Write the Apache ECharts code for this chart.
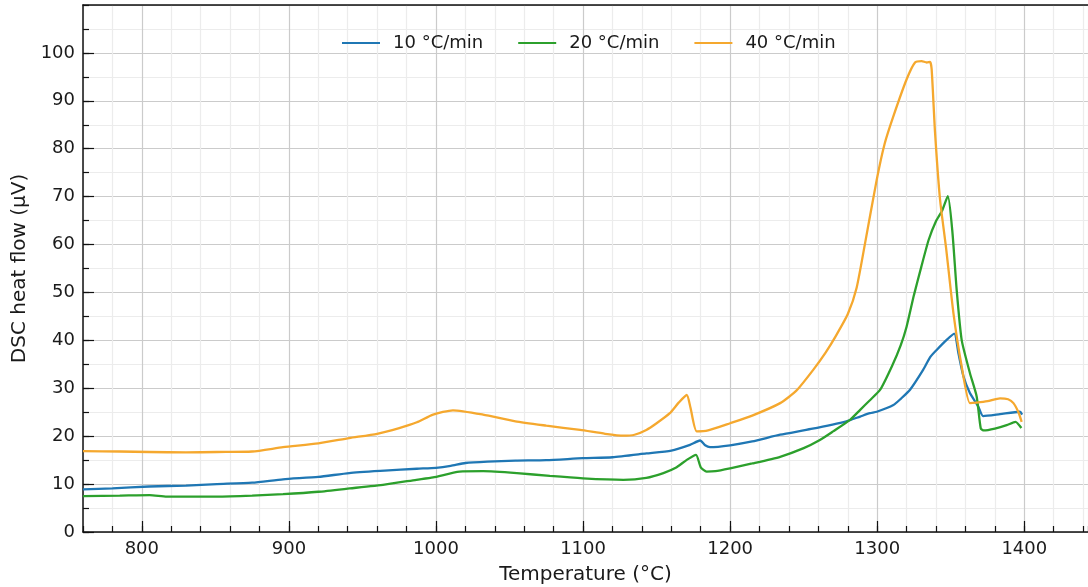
<!DOCTYPE html>
<html>
<head>
<meta charset="utf-8">
<script src="https://cdn.jsdelivr.net/npm/echarts@6/dist/echarts.min.js"></script>
<style>
html,body{margin:0;padding:0;background:#fff;}
#c{width:1088px;height:587px;}
</style>
</head>
<body>
<div id="c"></div>
<script>
var seriesNames = ['10 °C/min', '20 °C/min', '40 °C/min'];
var xMajorTicks = [800, 900, 1000, 1100, 1200, 1300, 1400];
var yMajorTicks = [0, 10, 20, 30, 40, 50, 60, 70, 80, 90, 100];

var tempsBlue = [760, 780, 805, 830, 851, 875, 896, 920, 941, 965, 987, 1000, 1010, 1020, 1035, 1054, 1075, 1100, 1120, 1143, 1160, 1172.7, 1179.5, 1183, 1186.3, 1200, 1215, 1234, 1255, 1279, 1288.4, 1295, 1299.7, 1311, 1316, 1322.3, 1331.3, 1336, 1340.4, 1347.2, 1352.4, 1355.2, 1358.6, 1363, 1368.7, 1372, 1383.5, 1397, 1398.5];
var valuesBlue = [8.9, 9.1, 9.5, 9.7, 10.0, 10.3, 11.0, 11.5, 12.3, 12.8, 13.2, 13.4, 13.8, 14.4, 14.7, 14.9, 15.0, 15.4, 15.6, 16.4, 17.0, 18.2, 19.1, 18.1, 17.7, 18.1, 18.9, 20.3, 21.5, 23.1, 24.1, 24.8, 25.1, 26.5, 27.8, 29.7, 33.9, 36.5, 38.0, 40.1, 41.4, 37.3, 32.5, 29.0, 26.2, 24.2, 24.6, 25.1, 24.5];

var tempsGreen = [760, 785, 805.4, 817, 851, 875, 896, 920, 941.4, 965, 986.7, 998, 1016, 1032, 1055, 1077.4, 1100, 1127.4, 1143, 1154.6, 1163, 1170.5, 1176.8, 1180, 1184, 1190, 1200, 1215, 1234, 1250, 1261, 1270, 1281.5, 1288.4, 1295, 1302, 1310, 1316, 1320, 1325, 1330, 1335, 1340, 1344, 1348, 1351, 1354, 1357.4, 1363, 1367.6, 1370.4, 1372.5, 1380, 1388, 1394, 1398];
var valuesGreen = [7.5, 7.6, 7.7, 7.4, 7.4, 7.6, 7.9, 8.4, 9.1, 9.9, 10.9, 11.4, 12.6, 12.7, 12.3, 11.7, 11.2, 10.9, 11.3, 12.3, 13.4, 15.05, 16.1, 13.5, 12.6, 12.7, 13.3, 14.3, 15.7, 17.5, 19.2, 21.0, 23.4, 25.5, 27.5, 29.7, 34.6, 39.0, 42.9, 49.5, 55.4, 61.0, 64.9, 67.0, 70.1, 63.0, 50.6, 40.1, 33.2, 28.3, 21.6, 21.2, 21.6, 22.3, 23.0, 21.7];

var tempsOrange = [760, 785, 805, 830, 851, 875, 896, 920, 941, 960, 975, 987, 998, 1011.5, 1032, 1054, 1075, 1098, 1115, 1127.4, 1135, 1143, 1150, 1159, 1165, 1170.5, 1173, 1177.3, 1185, 1200, 1215, 1234, 1245, 1256.6, 1265, 1272, 1280, 1286, 1291.8, 1299.7, 1305, 1311, 1320, 1325.7, 1330.2, 1333.6, 1335.9, 1337, 1339.3, 1342.7, 1346.8, 1351.8, 1357.4, 1363, 1367.6, 1375, 1383.5, 1389, 1392.6, 1396, 1398.2];
var valuesOrange = [16.9, 16.8, 16.7, 16.6, 16.7, 16.8, 17.7, 18.5, 19.6, 20.5, 21.7, 22.9, 24.5, 25.4, 24.5, 23.1, 22.2, 21.3, 20.5, 20.1, 20.3, 21.3, 22.7, 24.8, 27.0, 28.6, 26.0, 21.0, 21.2, 22.7, 24.3, 26.9, 29.5, 33.9, 37.5, 41.0, 45.5, 51.0, 60.4, 73.6, 81.0, 86.8, 94.5, 98.0, 98.3, 98.0, 98.1, 96.6, 83.4, 69.4, 59.3, 45.7, 34.6, 26.9, 27.0, 27.3, 27.9, 27.7, 26.9, 25.0, 23.0];

function pairs(xs, ys) { return xs.map(function (x, i) { return [x, ys[i]]; }); }

var FONT = 'DejaVu Sans';
var TXT = '#1a1a1a';
var MAJ = '#cbcbcb';
var MIN = '#ececec';

var chart = echarts.init(document.getElementById('c'), null, {renderer: 'canvas'});
var option = {
  animation: false,
  backgroundColor: '#ffffff',
  textStyle: {fontFamily: FONT},
  grid: {left: 83, right: 0, top: 5, bottom: 55, containLabel: false, outerBoundsMode: 'none'},
  legend: {
    top: 29, left: 337,
    data: seriesNames,
    itemWidth: 38, itemHeight: 14, itemGap: 35,
    textStyle: {fontFamily: FONT, fontSize: 18, color: TXT, padding: [0, 0, 0, 8]},
    icon: 'path://M0,6 L38,6 L38,8.2 L0,8.2 Z'
  },
  xAxis: [
    {
      type: 'value', min: 760, max: 1443.3, interval: 20,
      name: 'Temperature (°C)', nameLocation: 'middle', nameGap: 33,
      nameTextStyle: {fontFamily: FONT, fontSize: 20, color: TXT},
      axisLine: {show: true, onZero: false, lineStyle: {color: '#111', width: 1.5}},
      axisTick: {show: true, inside: true, length: 6, lineStyle: {color: '#111', width: 1.2}},
      axisLabel: {
        show: true, margin: 8, fontFamily: FONT, fontSize: 18, color: TXT,
        formatter: function (v) { var r = Math.round(v); return (Math.abs(v - r) < 1e-6 && r % 100 === 0) ? String(r) : ''; }
      },
      splitLine: {show: true, lineStyle: {color: [MIN, MIN, MAJ, MIN, MIN], width: 1.2}}
    },
    {
      type: 'value', min: 760, max: 1443.3, position: 'bottom',
      axisLine: {show: false},
      axisTick: {show: true, inside: true, length: 11, customValues: xMajorTicks, lineStyle: {color: '#111', width: 1.2}},
      axisLabel: {show: false},
      splitLine: {show: false}
    },
    {
      type: 'value', min: 760, max: 1443.3, position: 'top',
      axisLine: {show: true, onZero: false, lineStyle: {color: '#111', width: 1.5}},
      axisTick: {show: false}, axisLabel: {show: false}, splitLine: {show: false}
    }
  ],
  yAxis: [
    {
      type: 'value', min: 0, max: 110, interval: 5,
      name: 'DSC heat flow (μV)', nameLocation: 'middle', nameGap: 53,
      nameTextStyle: {fontFamily: FONT, fontSize: 20, color: TXT},
      axisLine: {show: true, onZero: false, lineStyle: {color: '#111', width: 1.5}},
      axisTick: {show: true, inside: true, length: 6, lineStyle: {color: '#111', width: 1.2}},
      axisLabel: {
        show: true, margin: 8, fontFamily: FONT, fontSize: 18, color: TXT,
        formatter: function (v) { var r = Math.round(v); return (r % 10 === 0 && r <= 100) ? String(r) : ''; }
      },
      splitLine: {show: true, lineStyle: {color: [MAJ, MIN], width: 1.2}}
    },
    {
      type: 'value', min: 0, max: 110, position: 'left',
      axisLine: {show: false},
      axisTick: {show: true, inside: true, length: 11, customValues: yMajorTicks, lineStyle: {color: '#111', width: 1.2}},
      axisLabel: {show: false},
      splitLine: {show: false}
    }
  ],
  series: [
    {name: seriesNames[0], type: 'line', xAxisIndex: 0, yAxisIndex: 0, data: pairs(tempsBlue, valuesBlue),
     symbol: 'none', smooth: 0.2, lineStyle: {color: '#1f77b4', width: 2.3}, itemStyle: {color: '#1f77b4'}, z: 3},
    {name: seriesNames[1], type: 'line', xAxisIndex: 0, yAxisIndex: 0, data: pairs(tempsGreen, valuesGreen),
     symbol: 'none', smooth: 0.2, lineStyle: {color: '#2ca02c', width: 2.3}, itemStyle: {color: '#2ca02c'}, z: 4},
    {name: seriesNames[2], type: 'line', xAxisIndex: 0, yAxisIndex: 0, data: pairs(tempsOrange, valuesOrange),
     symbol: 'none', smooth: 0.2, lineStyle: {color: '#f5a82e', width: 2.3}, itemStyle: {color: '#f5a82e'}, z: 5}
  ]
};
chart.setOption(option);
</script>
</body>
</html>
